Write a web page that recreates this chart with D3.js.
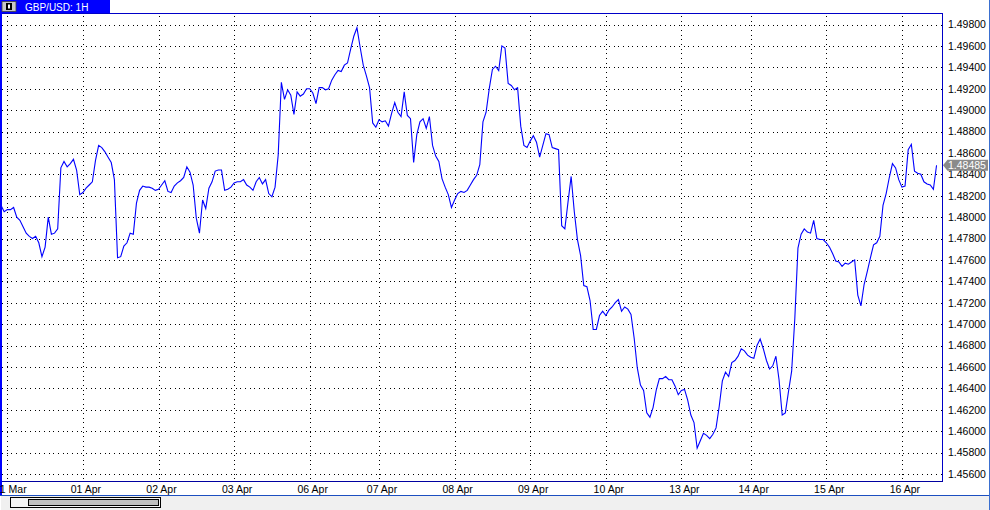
<!DOCTYPE html>
<html>
<head>
<meta charset="utf-8">
<script src="https://cdn.jsdelivr.net/npm/d3@7"></script>
<style>
  html, body { margin: 0; padding: 0; background: #ffffff; }
  svg { display: block; }
  text { font-family: "Liberation Sans", Arial, sans-serif; }
</style>
</head>
<body>
<svg id="chart" width="990" height="510"></svg>
<script>
// ---- data -------------------------------------------------------------
const title = "GBP/USD: 1H";
const lastPrice = 1.48485;

// hourly closes, one per bar
const closes = [
  1.4811,1.4805,1.4807,1.4807,1.4809,1.4800,1.4797,1.4791,1.4785,1.4782,
  1.4780,1.4782,1.4776,1.4763,1.4772,1.4800,1.4784,1.4785,1.4789,1.4846,
  1.4852,1.4847,1.4850,1.4854,1.4844,1.4821,1.4823,1.4827,1.4830,1.4833,
  1.4853,1.4867,1.4865,1.4861,1.4856,1.4851,1.4835,1.4762,1.4763,1.4773,
  1.4776,1.4785,1.4784,1.4813,1.4825,1.4829,1.4828,1.4828,1.4827,1.4825,
  1.4826,1.4830,1.4834,1.4824,1.4823,1.4829,1.4832,1.4834,1.4837,1.4847,
  1.4842,1.4830,1.4799,1.4785,1.4816,1.4808,1.4827,1.4833,1.4843,1.4844,
  1.4844,1.4825,1.4826,1.4828,1.4832,1.4833,1.4833,1.4835,1.4830,1.4828,
  1.4825,1.4833,1.4837,1.4831,1.4835,1.4822,1.4819,1.4828,1.4858,1.4926,
  1.4910,1.4919,1.4914,1.4896,1.4917,1.4913,1.4915,1.4920,1.4920,1.4916,
  1.4906,1.4921,1.4921,1.4919,1.4920,1.4928,1.4933,1.4937,1.4936,1.4942,
  1.4944,1.4957,1.4969,1.4977,1.4959,1.4942,1.4932,1.4921,1.4888,1.4884,
  1.4891,1.4889,1.4890,1.4885,1.4897,1.4907,1.4898,1.4894,1.4917,1.4895,
  1.4892,1.4851,1.4877,1.4889,1.4892,1.4883,1.4894,1.4867,1.4857,1.4852,
  1.4836,1.4828,1.4821,1.4809,1.4816,1.4822,1.4824,1.4823,1.4825,1.4830,
  1.4835,1.4839,1.4849,1.4889,1.4898,1.4920,1.4938,1.4941,1.4937,1.4960,
  1.4958,1.4925,1.4923,1.4919,1.4921,1.4885,1.4867,1.4865,1.4871,1.4876,
  1.4870,1.4856,1.4867,1.4878,1.4877,1.4865,1.4864,1.4863,1.4792,1.4789,
  1.4814,1.4838,1.4805,1.4779,1.4764,1.4736,1.4735,1.4722,1.4695,1.4695,
  1.4708,1.4712,1.4708,1.4713,1.4716,1.4720,1.4723,1.4712,1.4716,1.4714,
  1.4709,1.4687,1.4659,1.4643,1.4638,1.4617,1.4613,1.4622,1.4638,1.4649,
  1.4649,1.4651,1.4648,1.4648,1.4642,1.4634,1.4638,1.4639,1.4629,1.4615,
  1.4608,1.4584,1.4591,1.4598,1.4596,1.4593,1.4597,1.4603,1.4623,1.4647,
  1.4655,1.4651,1.4664,1.4666,1.4670,1.4677,1.4675,1.4671,1.4669,1.4668,
  1.4680,1.4686,1.4677,1.4666,1.4658,1.4661,1.4670,1.4648,1.4615,1.4617,
  1.4637,1.4656,1.4705,1.4771,1.4784,1.4789,1.4786,1.4785,1.4797,1.4780,
  1.4779,1.4779,1.4776,1.4772,1.4766,1.4759,1.4758,1.4754,1.4757,1.4756,
  1.4758,1.4760,1.4727,1.4717,1.4737,1.4749,1.4762,1.4774,1.4776,1.4782,
  1.4811,1.4822,1.4837,1.4850,1.4846,1.4835,1.4828,1.4829,1.4863,1.4868,
  1.4843,1.4841,1.4840,1.4833,1.4831,1.4830,1.4826,1.48485
];

// day separators: label and the bar index where the day starts
const dayLabels = ["31 Mar","01 Apr","02 Apr","03 Apr","06 Apr","07 Apr","08 Apr",
                   "09 Apr","10 Apr","13 Apr","14 Apr","15 Apr","16 Apr"];
const dayStartBar = [2, 26, 50, 74, 98, 120, 144, 168, 192, 216, 238, 262, 286];

// price ticks
const priceTicks = d3.range(0, 22).map(k => +(1.456 + k * 0.002).toFixed(3));

// ---- layout -----------------------------------------------------------
const W = 990, H = 510;
const plot = { left: 1, right: 942, top: 14, bottom: 481 };

const x = d3.scaleLinear().domain([0, closes.length - 1]).range([1, 936.55]);
const y = d3.scaleLinear().domain([1.456, 1.498]).range([473.9, 24.5]);

const svg = d3.select("#chart");

// background
svg.append("rect").attr("x", 0).attr("y", 0).attr("width", W).attr("height", H).attr("fill", "#ffffff");

// clip for plot
svg.append("clipPath").attr("id", "plotclip")
  .append("rect").attr("x", plot.left).attr("y", plot.top)
  .attr("width", plot.right - plot.left).attr("height", plot.bottom - plot.top);

// grid
const grid = svg.append("g").attr("shape-rendering", "crispEdges");
grid.selectAll("line.h").data(priceTicks).join("line")
  .attr("class", "h")
  .attr("x1", plot.left + 1).attr("x2", plot.right)
  .attr("y1", d => Math.round(y(d)) + 0.5).attr("y2", d => Math.round(y(d)) + 0.5)
  .attr("stroke", "#000").attr("stroke-width", 1).attr("stroke-dasharray", "1,3.67");
grid.selectAll("line.v").data(dayStartBar).join("line")
  .attr("class", "v")
  .attr("x1", d => Math.round(x(d)) + 0.5).attr("x2", d => Math.round(x(d)) + 0.5)
  .attr("y1", plot.top + 2).attr("y2", plot.bottom)
  .attr("stroke", "#000").attr("stroke-width", 1).attr("stroke-dasharray", "1,3.67");

// price line
const line = d3.line().x((d, i) => x(i)).y(d => y(d));
svg.append("path")
  .datum(closes)
  .attr("clip-path", "url(#plotclip)")
  .attr("d", line)
  .attr("fill", "none")
  .attr("stroke", "#0000ff")
  .attr("stroke-width", 1.1)
  .attr("stroke-linejoin", "miter");

// plot frame (top, right, bottom)
const frame = svg.append("g").attr("shape-rendering", "crispEdges");
frame.append("line").attr("x1", 0).attr("x2", plot.right + 0.5).attr("y1", 13.5).attr("y2", 13.5)
  .attr("stroke", "#0000c8").attr("stroke-width", 1);
frame.append("line").attr("x1", plot.right + 0.5).attr("x2", plot.right + 0.5).attr("y1", 13.5).attr("y2", plot.bottom + 0.5)
  .attr("stroke", "#0000c8").attr("stroke-width", 1);
frame.append("line").attr("x1", 0).attr("x2", plot.right + 0.5).attr("y1", plot.bottom + 0.5).attr("y2", plot.bottom + 0.5)
  .attr("stroke", "#0000a0").attr("stroke-width", 1);
// left window edge
frame.append("rect").attr("x", 0).attr("y", 0).attr("width", 1.5).attr("height", 495)
  .attr("fill", "#0000ff");
// right window edge
frame.append("line").attr("x1", 989.5).attr("x2", 989.5).attr("y1", 0).attr("y2", H)
  .attr("stroke", "#3a6fd0").attr("stroke-width", 1);

// right price axis labels
svg.append("g").selectAll("text").data(priceTicks).join("text")
  .attr("x", 948)
  .attr("y", d => y(d) + 3.8)
  .attr("font-size", "10.5px")
  .attr("fill", "#000")
  .text(d => d.toFixed(5));

// current price tag
const yc = y(lastPrice);
svg.append("path")
  .attr("d", `M943,${yc} L947.5,${yc - 5.5} L988,${yc - 5.5} L988,${yc + 5.5} L947.5,${yc + 5.5} Z`)
  .attr("fill", "#8a8a8a");
svg.append("text").attr("x", 948).attr("y", yc + 3.8)
  .attr("font-size", "10.5px").attr("fill", "#ffffff").text(lastPrice.toFixed(5));

// x axis day labels
svg.append("g").selectAll("text").data(dayStartBar).join("text")
  .attr("x", d => x(d) + 3)
  .attr("y", 492.5)
  .attr("text-anchor", "middle")
  .attr("font-size", "10.5px")
  .attr("fill", "#000")
  .text((d, i) => dayLabels[i]);

// bottom scrollbar area
const sb = svg.append("g").attr("shape-rendering", "crispEdges");
sb.append("rect").attr("x", 1).attr("y", 496).attr("width", 988).attr("height", 14).attr("fill", "#f0f0f0");
sb.append("line").attr("x1", 0).attr("x2", 989).attr("y1", 495.5).attr("y2", 495.5)
  .attr("stroke", "#1c4fc0").attr("stroke-width", 1);
sb.append("rect").attr("x", 10.5).attr("y", 497.5).attr("width", 150).attr("height", 10)
  .attr("fill", "#f4f4f4").attr("stroke", "#000").attr("stroke-width", 1);
sb.append("rect").attr("x", 28.5).attr("y", 499.5).attr("width", 130).attr("height", 6)
  .attr("fill", "#c0c0c0").attr("stroke", "#000").attr("stroke-width", 1);

// title tab
const tab = svg.append("g");
tab.append("rect").attr("x", 0).attr("y", 0).attr("width", 110).attr("height", 13).attr("fill", "#0000ff");
tab.append("rect").attr("x", 2).attr("y", 1.5).attr("width", 14).attr("height", 10)
  .attr("fill", "#c8c8c8").attr("stroke", "#404040").attr("stroke-width", 0.8);
tab.append("rect").attr("x", 6).attr("y", 3).attr("width", 6).attr("height", 7).attr("fill", "#000");
tab.append("rect").attr("x", 8).attr("y", 4.5).attr("width", 2).attr("height", 4).attr("fill", "#ffffff");
tab.append("text").attr("x", 25).attr("y", 10.5)
  .attr("font-size", "10px").attr("fill", "#ffffff").text(title);
</script>
</body>
</html>
